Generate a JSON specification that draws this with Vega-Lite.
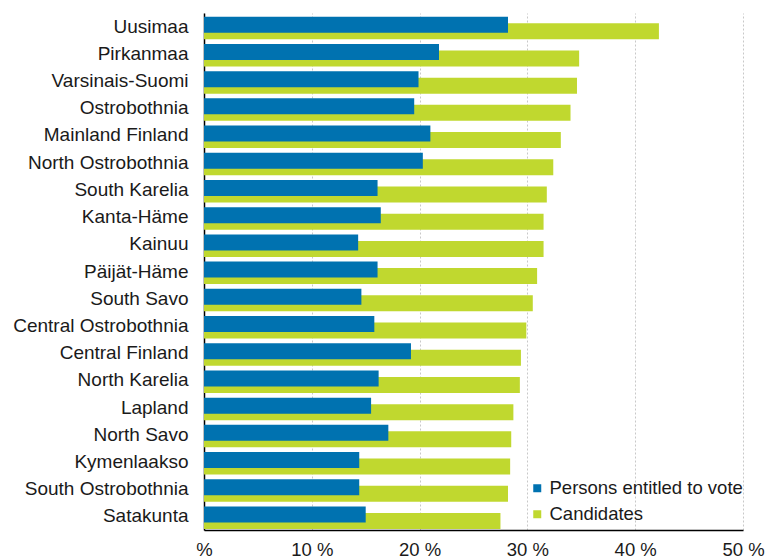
{
  "$schema": "https://vega.github.io/schema/vega-lite/v6.json",
  "autosize": "none",
  "width": 539,
  "height": 517,
  "padding": {"left": 204, "top": 13, "right": 26, "bottom": 30},
  "background": "white",
  "config": {
    "font": "Liberation Sans",
    "view": {"stroke": null}
  },
  "data": {
    "values": [
      {"region": "Uusimaa", "series": "Persons entitled to vote", "value": 28.2},
      {"region": "Uusimaa", "series": "Candidates", "value": 42.2},
      {"region": "Pirkanmaa", "series": "Persons entitled to vote", "value": 21.8},
      {"region": "Pirkanmaa", "series": "Candidates", "value": 34.8},
      {"region": "Varsinais-Suomi", "series": "Persons entitled to vote", "value": 19.9},
      {"region": "Varsinais-Suomi", "series": "Candidates", "value": 34.6},
      {"region": "Ostrobothnia", "series": "Persons entitled to vote", "value": 19.5},
      {"region": "Ostrobothnia", "series": "Candidates", "value": 34.0},
      {"region": "Mainland Finland", "series": "Persons entitled to vote", "value": 21.0},
      {"region": "Mainland Finland", "series": "Candidates", "value": 33.1},
      {"region": "North Ostrobothnia", "series": "Persons entitled to vote", "value": 20.3},
      {"region": "North Ostrobothnia", "series": "Candidates", "value": 32.4},
      {"region": "South Karelia", "series": "Persons entitled to vote", "value": 16.1},
      {"region": "South Karelia", "series": "Candidates", "value": 31.8},
      {"region": "Kanta-Häme", "series": "Persons entitled to vote", "value": 16.4},
      {"region": "Kanta-Häme", "series": "Candidates", "value": 31.5},
      {"region": "Kainuu", "series": "Persons entitled to vote", "value": 14.3},
      {"region": "Kainuu", "series": "Candidates", "value": 31.5},
      {"region": "Päijät-Häme", "series": "Persons entitled to vote", "value": 16.1},
      {"region": "Päijät-Häme", "series": "Candidates", "value": 30.9},
      {"region": "South Savo", "series": "Persons entitled to vote", "value": 14.6},
      {"region": "South Savo", "series": "Candidates", "value": 30.5},
      {"region": "Central Ostrobothnia", "series": "Persons entitled to vote", "value": 15.8},
      {"region": "Central Ostrobothnia", "series": "Candidates", "value": 29.9},
      {"region": "Central Finland", "series": "Persons entitled to vote", "value": 19.2},
      {"region": "Central Finland", "series": "Candidates", "value": 29.4},
      {"region": "North Karelia", "series": "Persons entitled to vote", "value": 16.2},
      {"region": "North Karelia", "series": "Candidates", "value": 29.3},
      {"region": "Lapland", "series": "Persons entitled to vote", "value": 15.5},
      {"region": "Lapland", "series": "Candidates", "value": 28.7},
      {"region": "North Savo", "series": "Persons entitled to vote", "value": 17.1},
      {"region": "North Savo", "series": "Candidates", "value": 28.5},
      {"region": "Kymenlaakso", "series": "Persons entitled to vote", "value": 14.4},
      {"region": "Kymenlaakso", "series": "Candidates", "value": 28.4},
      {"region": "South Ostrobothnia", "series": "Persons entitled to vote", "value": 14.4},
      {"region": "South Ostrobothnia", "series": "Candidates", "value": 28.2},
      {"region": "Satakunta", "series": "Persons entitled to vote", "value": 15.0},
      {"region": "Satakunta", "series": "Candidates", "value": 27.5}
    ]
  },
  "encoding": {
    "y": {
      "field": "region",
      "type": "nominal",
      "sort": null,
      "scale": {"paddingInner": 0, "paddingOuter": 0},
      "axis": {
        "title": null,
        "ticks": false,
        "labelFontSize": 19,
        "labelColor": "#1a1a1a",
        "labelPadding": 16,
        "labelLimit": 300,
        "domainColor": "#000000",
        "domainWidth": 1.5,
        "grid": false
      }
    },
    "x": {
      "field": "value",
      "type": "quantitative",
      "scale": {"domain": [0, 50], "nice": false},
      "axis": {
        "title": null,
        "values": [0, 10, 20, 30, 40, 50],
        "labelExpr": "datum.value == 0 ? '%' : datum.value + ' %'",
        "ticks": false,
        "labelFontSize": 18.5,
        "labelColor": "#1a1a1a",
        "labelPadding": 10,
        "labelFlush": false,
        "domainColor": "#000000",
        "domainWidth": 1.5,
        "grid": true,
        "gridColor": "#c8c8c8",
        "gridDash": [2, 2],
        "gridWidth": 1
      }
    },
    "color": {
      "field": "series",
      "type": "nominal",
      "scale": {
        "domain": ["Persons entitled to vote", "Candidates"],
        "range": ["#0072b0", "#c0d82f"]
      },
      "legend": {
        "title": null,
        "orient": "none",
        "legendX": 324,
        "legendY": 466,
        "symbolType": "square",
        "symbolSize": 64,
        "symbolStrokeWidth": 0,
        "labelFontSize": 18.5,
        "labelColor": "#1a1a1a",
        "labelOffset": 3,
        "labelLimit": 400,
        "rowPadding": 7,
        "symbolOpacity": 1
      }
    }
  },
  "layer": [
    {
      "transform": [{"filter": "datum.series == 'Candidates'"}],
      "mark": {"type": "bar", "height": 16, "yOffset": 4.6}
    },
    {
      "transform": [{"filter": "datum.series == 'Persons entitled to vote'"}],
      "mark": {"type": "bar", "height": 16, "yOffset": -1.9}
    }
  ]
}
